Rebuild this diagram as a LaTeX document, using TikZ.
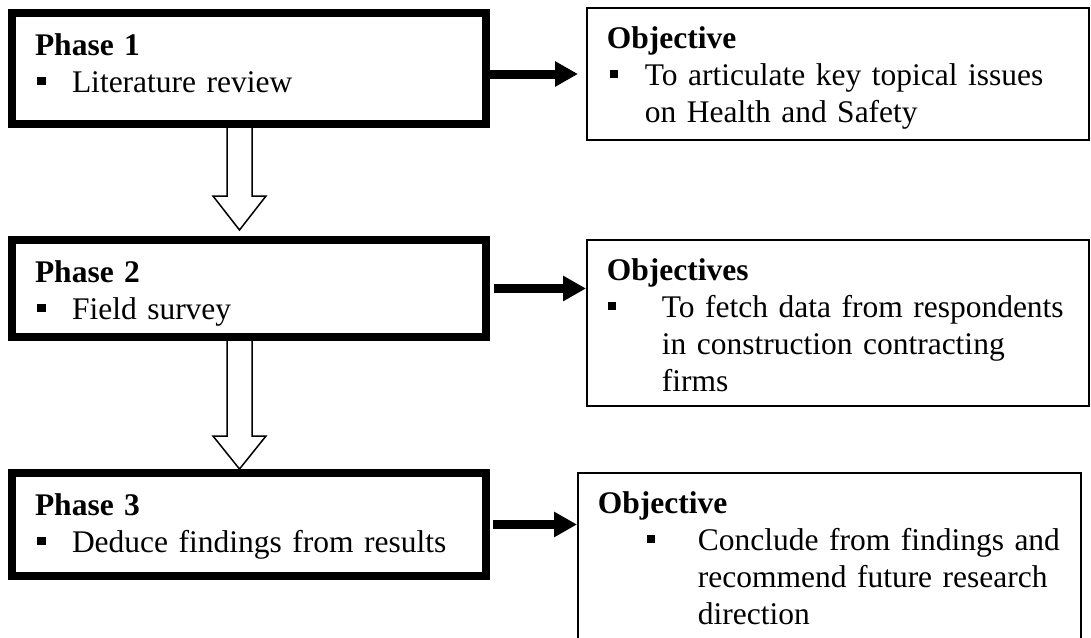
\documentclass[tikz,border=0pt]{standalone}
\usepackage{fontspec}
\setmainfont{Liberation Serif}
\usetikzlibrary{arrows.meta,positioning,calc}
\newcommand{\sqbul}{\rule[7pt]{8.5pt}{8.5pt}}

\begin{document}
\begin{tikzpicture}[x=1pt,y=-1pt,
every node/.style={font=\fontsize{31.5}{37}\selectfont},
phase/.style={draw,line width=8pt,align=left,text width=428pt,inner xsep=23pt,inner ysep=0pt,text height=42pt},
obj/.style={draw,line width=1.6pt,align=left,text width=462pt,inner xsep=20pt,inner ysep=0pt,text height=40pt},
arr/.style={-{Triangle[length=23pt,width=24pt]},line width=9pt},
hollow/.style={line width=1.5pt,line join=miter}]
\path[use as bounding box,clip](0,0)rectangle(1091,637);
\node[phase,text depth=69pt](p1)at(249,68.5){\textbf{Phase 1}\\\hspace*{2pt}\sqbul\hspace{26.5pt}Literature review};
\node[phase,text depth=55pt,below=108pt of p1](p2){\textbf{Phase 2}\\\hspace*{2pt}\sqbul\hspace{26.5pt}Field survey};
\node[phase,text depth=61pt,below=128pt of p2](p3){\textbf{Phase 3}\\\hspace*{2pt}\sqbul\hspace{26.5pt}Deduce findings from results};
\node[obj,text depth=92pt,right=96pt of p1,yshift=-5.5pt](o1){\textbf{Objective}\\\hspace*{3pt}\sqbul\hspace{26.5pt}To articulate key topical issues\\\hspace*{38pt}on Health and Safety};
\node[obj,text depth=126pt,right=96pt of p2,yshift=-34.5pt](o2){\textbf{Objectives}\\\hspace*{1pt}\sqbul\hspace{45.5pt}To fetch data from respondents\\\hspace*{55pt}in construction contracting\\\hspace*{55pt}firms};
\node[obj,text width=463pt,text depth=150pt,right=87pt of p3,yshift=-43.5pt](o3){\textbf{Objective}\\\hspace*{49pt}\sqbul\hspace{42.5pt}Conclude from findings and\\\hspace*{100pt}recommend future research\\\hspace*{100pt}direction};
% phase to objective
\draw[arr,shorten >=8pt](o1.west-|p1.east)--(o1.west);
\draw[arr,shorten <=4pt](p2.east)--(p2.east-|o2.west);
\draw[arr,shorten <=3pt](p3.east)--(p3.east-|o3.west);
% phase to phase
\draw[hollow]($(p1.south)+(-22,0)$)--($(p2.north)+(-22,-40)$)--++(-14,0)--($(p2.north)+(-9.5,-6)$)--($(p2.north)+(17,-40)$)--++(-14,0)--($(p1.south)+(3,0)$);
\draw[hollow]($(p2.south)+(-22,0)$)--($(p3.north)+(-22,-33)$)--++(-14,0)--($(p3.north)+(-9.5,0)$)--($(p3.north)+(17,-33)$)--++(-14,0)--($(p2.south)+(3,0)$);
\end{tikzpicture}
\end{document}
